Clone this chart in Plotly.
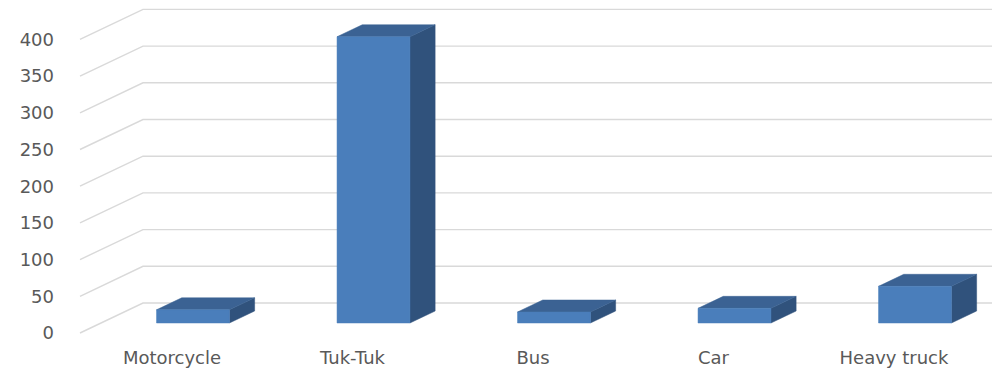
import plotly.graph_objects as go

# Vehicle counts by type
categories = ["Motorcycle", "Tuk-Tuk", "Bus", "Car", "Heavy truck"]
values = [18, 390, 15, 20, 50]
y_ticks = [0, 50, 100, 150, 200, 250, 300, 350, 400]

# Canvas / plot geometry (pixels)
W, H = 992, 371
M_L, M_B = 55, 31
plot_h = H - M_B
cat_px0, cat_px_step = 172.0, 180.5      # pixel of first category, spacing
zero_px, px_per_unit = 333.0, 0.734      # pixel of value 0 on front plane, scale

# Axis ranges derived from geometry
x_range = [(M_L - cat_px0) / cat_px_step, (W - cat_px0) / cat_px_step]
y_range = [(zero_px - plot_h) / px_per_unit, zero_px / px_per_unit]

# Oblique projection of depth (0 = front plane, 1 = back wall)
DEPTH_X = 63.0 / cat_px_step     # category units
DEPTH_Y = 30.0 / px_per_unit     # value units
WALL_LEFT = (80.0 - cat_px0) / cat_px_step
BAR_HALF = 0.202
BAR_D0, BAR_D1 = 1 / 3, 0.733

FRONT = "#4A7EBB"
TOP = "#3B6293"
SIDE = "#30527C"
GRID = "#D9D9D9"
TEXT = "#595959"


def proj(x, v, d):
    return x + DEPTH_X * d, v + DEPTH_Y * d


fig = go.Figure()

# Gridlines: diagonal on the side wall, horizontal on the back wall
for t in y_ticks:
    x0, y0 = proj(WALL_LEFT, t, 0)
    x1, y1 = proj(WALL_LEFT, t, 1)
    fig.add_trace(go.Scatter(
        x=[x0, x1, x_range[1]], y=[y0, y1, y1], mode="lines",
        line=dict(color=GRID, width=1.4), hoverinfo="skip", showlegend=False))


def face(pts, color):
    xs = [p[0] for p in pts] + [pts[0][0]]
    ys = [p[1] for p in pts] + [pts[0][1]]
    fig.add_trace(go.Scatter(
        x=xs, y=ys, mode="lines", fill="toself", fillcolor=color,
        line=dict(color=color, width=0.5), hoverinfo="skip", showlegend=False))


# 3D columns
for i, v in enumerate(values):
    xl, xr = i - BAR_HALF, i + BAR_HALF
    # right side face
    face([proj(xr, 0, BAR_D0), proj(xr, 0, BAR_D1),
          proj(xr, v, BAR_D1), proj(xr, v, BAR_D0)], SIDE)
    # top face
    face([proj(xl, v, BAR_D0), proj(xr, v, BAR_D0),
          proj(xr, v, BAR_D1), proj(xl, v, BAR_D1)], TOP)
    # front face
    face([proj(xl, 0, BAR_D0), proj(xr, 0, BAR_D0),
          proj(xr, v, BAR_D0), proj(xl, v, BAR_D0)], FRONT)

fig.update_layout(
    width=W, height=H,
    margin=dict(l=M_L, r=0, t=0, b=M_B),
    paper_bgcolor="white", plot_bgcolor="white",
    font=dict(family="DejaVu Sans", size=18, color=TEXT),
    xaxis=dict(range=x_range, tickmode="array", tickvals=list(range(len(categories))),
               ticktext=categories, showgrid=False, zeroline=False, showline=False,
               ticks="", ticklabelstandoff=5, fixedrange=True),
    yaxis=dict(range=y_range, tickmode="array", tickvals=y_ticks,
               showgrid=False, zeroline=False, showline=False, ticks="",
               fixedrange=True),
)

fig.write_html("out.html")
